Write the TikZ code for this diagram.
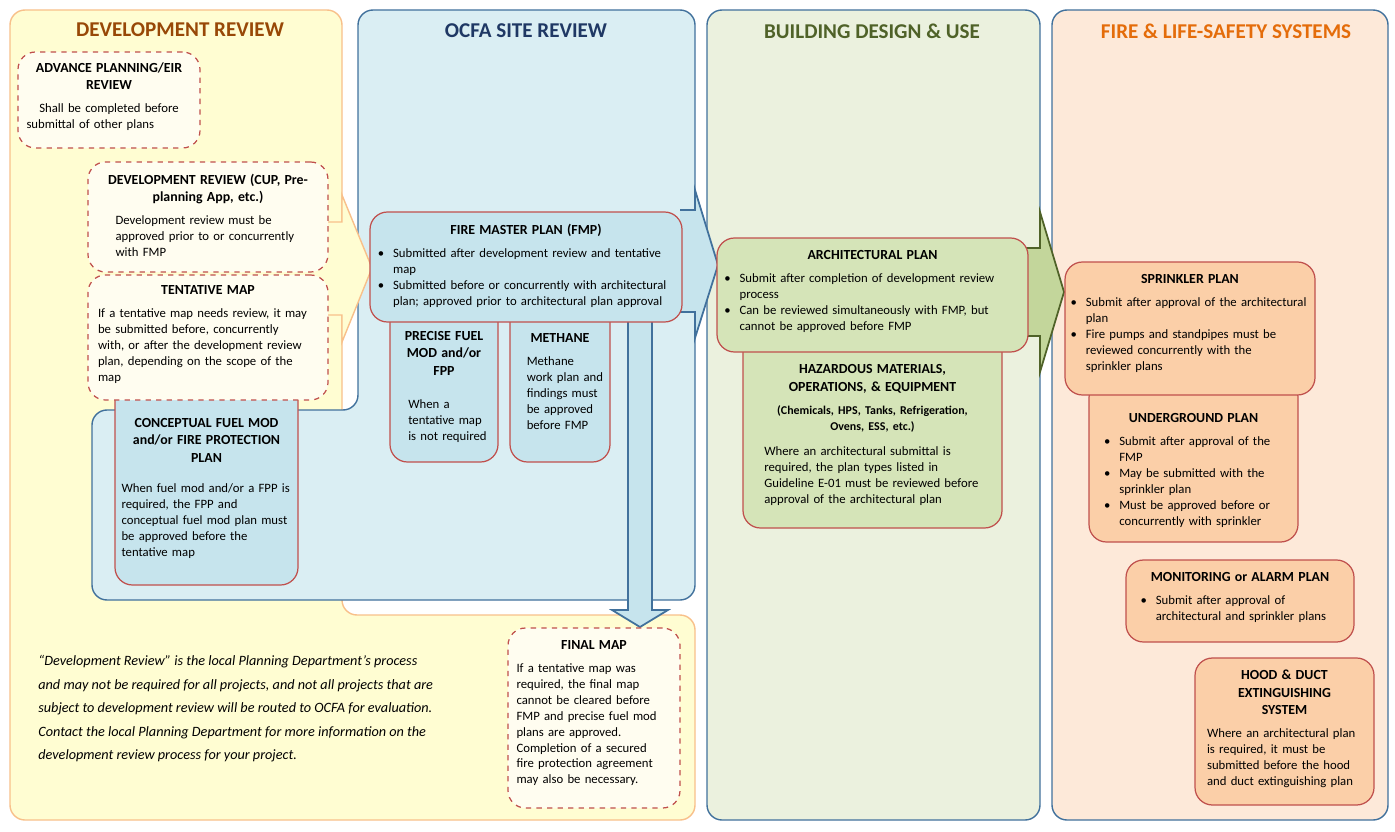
\documentclass[tikz,border=0pt]{standalone}
\usepackage{fontspec}
\setmainfont{Carlito}
\usepackage{enumitem}
\setlist[itemize]{nosep,leftmargin=9pt,label=\textbullet}
\usetikzlibrary{fit,positioning}

\definecolor{panelY}{HTML}{FFFDD2}
\definecolor{lineY}{HTML}{F8C08A}
\definecolor{panelB}{HTML}{DAEEF3}
\definecolor{panelG}{HTML}{EBF1DE}
\definecolor{panelO}{HTML}{FDE9D9}
\definecolor{lineP}{HTML}{41719C}
\definecolor{boxC}{HTML}{FFFDF0}
\definecolor{boxB}{HTML}{C6E4ED}
\definecolor{boxG}{HTML}{D5E4B8}
\definecolor{boxO}{HTML}{FBCFA8}
\definecolor{lineR}{HTML}{C0504D}
\definecolor{arrG}{HTML}{C3D69B}
\definecolor{lineG}{HTML}{4F6228}
\definecolor{titleY}{HTML}{984807}
\definecolor{titleB}{HTML}{1F3864}
\definecolor{titleO}{HTML}{E46C0A}

\newcommand{\hd}[1]{{\centering\bfseries\fontsize{7.9}{9.9}\selectfont #1\par}\vspace{4pt}}
\newcommand{\mkbox}[6]{\node[#6, fit={(#2,#3) (#4,#5)}] (#1) {};}

\begin{document}
\begin{tikzpicture}[x=0.02cm, y=-0.02cm,
  panel/.style={draw=lineP, line width=0.8pt, rounded corners=0.3cm},
  box/.style={draw=lineR, line width=0.7pt, rounded corners=0.35cm, inner sep=0pt},
  dashbox/.style={box, fill=boxC, dashed},
  bluebox/.style={box, fill=boxB},
  greenbox/.style={box, fill=boxG},
  orangebox/.style={box, fill=boxO},
  title/.style={font=\bfseries\fontsize{12}{14}\selectfont},
  txt/.style={inner sep=0pt, font=\fontsize{7.25}{9.1}\selectfont, align=left}]
\useasboundingbox (0,0) rectangle (1395,831);

% panels
\draw[fill=panelY, draw=lineY, line width=0.8pt, rounded corners=0.3cm]
  (10,10) -- (342,10) -- (342,615) -- (695,615) -- (695,820) -- (10,820) -- cycle;
\draw[panel, fill=panelB]
  (358,10) -- (695,10) -- (695,600) -- (92,600) -- (92,410) -- (358,410) -- cycle;
\draw[panel, fill=panelG] (707,10) rectangle (1040,820);
\draw[panel, fill=panelO] (1052,10) rectangle (1388,820);
\node[title, text=titleY] (tdev) at (180,30) {DEVELOPMENT REVIEW};
\node[title, text=titleB] (tocfa) at (526,31) {OCFA SITE REVIEW};
\node[title, text=lineG] (tbld) at (872,31) {BUILDING DESIGN \& USE};
\node[title, text=titleO] (tfire) at (1226,31) {FIRE \& LIFE-SAFETY SYSTEMS};

% block arrows
\draw[draw=lineY, fill=panelY, line width=0.8pt]
  (328,222) -- (342,222) -- (342,195) -- (372,268) -- (342,342) -- (342,315) -- (328,315);
\draw[draw=lineP, fill=boxB, line width=1pt]
  (680,210) -- (695,210) -- (695,190) -- (718,265) -- (695,338) -- (695,312) -- (680,312);
\draw[draw=lineG, fill=arrG, line width=1pt]
  (1026,248) -- (1040,248) -- (1040,212) -- (1064,292) -- (1040,372) -- (1040,336) -- (1026,336);
\draw[draw=lineP, fill=boxB, line width=1pt]
  (628,315) -- (628,610) -- (612,610) -- (640,627) -- (668,610) -- (652,610) -- (652,315);

% development review
\mkbox{adv}{18}{52}{200}{148}{dashbox}
\node[txt, text width=3.3cm, below=6pt of adv.north] (advt)
  {\hd{ADVANCE PLANNING/EIR\\REVIEW}\centering Shall be completed before\\submittal of other plans};
\mkbox{cfm}{115}{380}{298}{585}{bluebox}
\node[txt, text width=3.4cm, below=22pt of cfm.north] (cfmt)
  {\hd{CONCEPTUAL FUEL MOD\\and/or FIRE PROTECTION\\PLAN}\vspace{4pt}When fuel mod and/or a FPP is\\required, the FPP and\\conceptual fuel mod plan must\\be approved before the\\tentative map};
\mkbox{tent}{88}{275}{328}{400}{dashbox}
\node[txt, text width=4.4cm, below=6pt of tent.north] (tentt)
  {\hd{TENTATIVE MAP}If a tentative map needs review, it may\\be submitted before, concurrently\\with, or after the development review\\plan, depending on the scope of the\\map};
\mkbox{cup}{88}{162}{328}{272}{dashbox}
\node[txt, text width=4.4cm, below=7pt of cup.north] (cupt)
  {\hd{DEVELOPMENT REVIEW (CUP, Pre-\\planning App, etc.)}\hspace*{10pt}Development review must be\\\hspace*{10pt}approved prior to or concurrently\\\hspace*{10pt}with FMP};
\mkbox{fin}{508}{628}{680}{808}{dashbox}
\node[txt, text width=3.1cm, below=7pt of fin.north] (fint)
  {\hd{FINAL MAP}If a tentative map was\\required, the final map\\cannot be cleared before\\FMP and precise fuel mod\\plans are approved.\\Completion of a secured\\fire protection agreement\\may also be necessary.};
\node[txt, anchor=north west, font=\itshape\fontsize{8.1}{13.4}\selectfont] (note) at (38,655)
  {“Development Review” is the local Planning Department’s process\\and may not be required for all projects, and not all projects that are\\subject to development review will be routed to OCFA for evaluation.\\Contact the local Planning Department for more information on the\\development review process for your project.};

% ocfa site review
\mkbox{pfm}{390}{300}{498}{462}{bluebox}
\node[txt, text width=1.85cm, below=18pt of pfm.north] (pfmt)
  {\hd{PRECISE FUEL\\MOD and/or\\FPP}\vspace{6pt}\hspace*{6pt}When a\\\hspace*{6pt}tentative map\\\hspace*{6pt}is not required};
\mkbox{meth}{510}{300}{610}{462}{bluebox}
\node[txt, text width=1.75cm, below=19pt of meth.north] (metht)
  {\hd{METHANE}\hspace*{6pt}Methane\\\hspace*{6pt}work plan and\\\hspace*{6pt}findings must\\\hspace*{6pt}be approved\\\hspace*{6pt}before FMP};
\mkbox{fmp}{370}{212}{682}{322}{bluebox}
\node[txt, text width=5.95cm, below=7pt of fmp.north] (fmpt)
  {\hd{FIRE MASTER PLAN (FMP)}\begin{itemize}
  \item Submitted after development review and tentative\\map
  \item Submitted before or concurrently with architectural\\plan; approved prior to architectural plan approval
  \end{itemize}};

% building design
\mkbox{haz}{743}{330}{1002}{528}{greenbox}
\node[txt, text width=4.75cm, below=20pt of haz.north] (hazt)
  {\hd{HAZARDOUS MATERIALS,\\OPERATIONS, \& EQUIPMENT}{\centering\bfseries\fontsize{6.8}{9.1}\selectfont(Chemicals, HPS, Tanks, Refrigeration,\\Ovens, ESS, etc.)\par}\vspace{5pt}\hspace*{6pt}Where an architectural submittal is\\\hspace*{6pt}required, the plan types listed in\\\hspace*{6pt}Guideline E-01 must be reviewed before\\\hspace*{6pt}approval of the architectural plan};
\mkbox{arch}{717}{238}{1028}{352}{greenbox}
\node[txt, text width=5.95cm, below=7pt of arch.north] (archt)
  {\hd{ARCHITECTURAL PLAN}\begin{itemize}
  \item Submit after completion of development review\\process
  \item Can be reviewed simultaneously with FMP, but\\cannot be approved before FMP
  \end{itemize}};

% fire and life-safety
\mkbox{ug}{1089}{380}{1298}{542}{orangebox}
\node[txt, text width=3.6cm, below=19pt of ug.north] (ugt)
  {\hd{UNDERGROUND PLAN}\begin{itemize}
  \item Submit after approval of the\\FMP
  \item May be submitted with the\\sprinkler plan
  \item Must be approved before or\\concurrently with sprinkler
  \end{itemize}};
\mkbox{spr}{1065}{262}{1315}{395}{orangebox}
\node[txt, text width=4.8cm, below=7pt of spr.north] (sprt)
  {\hd{SPRINKLER PLAN}\begin{itemize}
  \item Submit after approval of the architectural\\plan
  \item Fire pumps and standpipes must be\\reviewed concurrently with the\\sprinkler plans
  \end{itemize}};
\mkbox{mon}{1126}{560}{1354}{642}{orangebox}
\node[txt, text width=4.0cm, below=7pt of mon.north] (mont)
  {\hd{MONITORING or ALARM PLAN}\begin{itemize}
  \item Submit after approval of\\architectural and sprinkler plans
  \end{itemize}};
\mkbox{hood}{1195}{658}{1374}{805}{orangebox}
\node[txt, text width=3.1cm, below=7pt of hood.north] (hoodt)
  {\hd{HOOD \& DUCT\\EXTINGUISHING\\SYSTEM}Where an architectural plan\\is required, it must be\\submitted before the hood\\and duct extinguishing plan};
\end{tikzpicture}
\end{document}
